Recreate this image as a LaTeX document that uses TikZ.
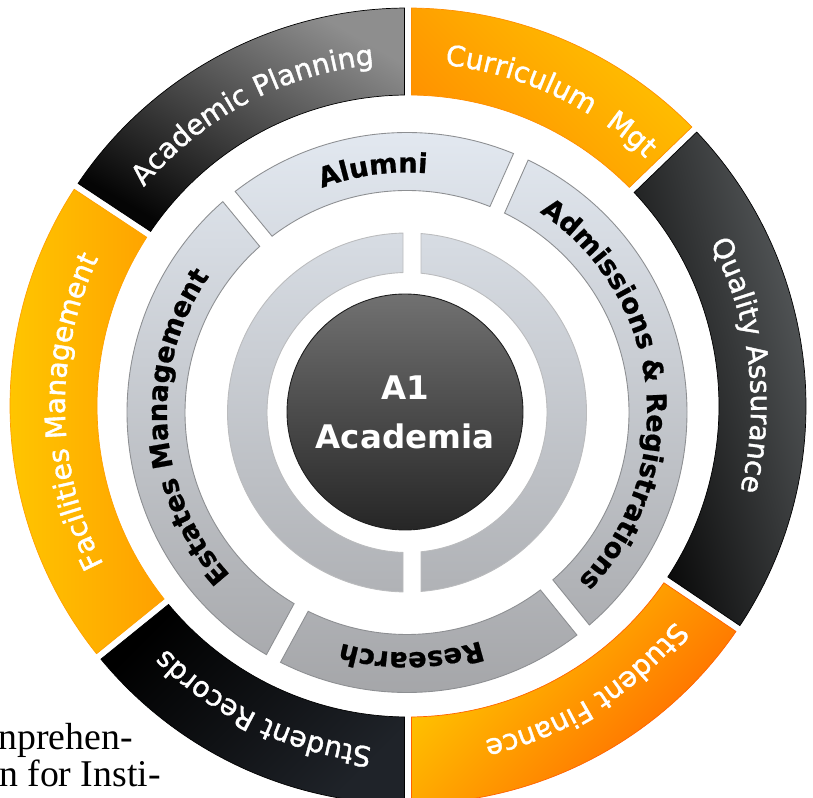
\documentclass[tikz,border=0pt]{standalone}
\usepackage{fontspec}
\setmainfont{DejaVu Sans}
\newfontfamily\pageserif{Liberation Serif}
\newfontfamily\ringsans[FakeBold=1.4]{DejaVu Sans}
\newfontfamily\ringbold[FakeBold=0.8]{DejaVu Sans Bold}
\usetikzlibrary{decorations.text}

\definecolor{apLite}{HTML}{8E8E8E}
\definecolor{apDeep}{HTML}{050505}
\definecolor{cmLite}{HTML}{FFC400}
\definecolor{cmDeep}{HTML}{FF8E00}
\definecolor{qaLite}{HTML}{65696B}
\definecolor{qaDeep}{HTML}{050505}
\definecolor{sfLite}{HTML}{FFD000}
\definecolor{sfDeep}{HTML}{FF6200}
\definecolor{srLite}{HTML}{1F2329}
\definecolor{srDeep}{HTML}{000000}
\definecolor{fmLite}{HTML}{FFCC00}
\definecolor{fmDeep}{HTML}{FFA000}
\definecolor{ringTop}{HTML}{E2E8F0}
\definecolor{ringBot}{HTML}{A5A6A9}
\definecolor{ringEdge}{HTML}{8D8F92}
\definecolor{hubTop}{HTML}{717171}
\definecolor{hubBot}{HTML}{262626}

% ring piece: inner r, outer r, from angle, to angle, offset at start, offset at end
\newcommand{\segpath}[6]{({#3+asin(#5/#2)}:#2) arc[start angle={#3+asin(#5/#2)}, end angle={#4-asin(#6/#2)}, radius=#2] -- ({#4-asin(#6/#1)}:#1) arc[start angle={#4-asin(#6/#1)}, end angle={#3+asin(#5/#1)}, radius=#1] -- cycle}

\begin{document}
\begin{tikzpicture}[x=0.02cm, y=0.02cm]
\tikzset{
  outerseg/.style={line width=0.4pt},
  ringline/.style={draw=ringEdge, line width=0.5pt},
  outerlabel/.style={decorate, decoration={text along path, text align=center, text color=white, text={|\ringsans\fontsize{16}{18}\selectfont|#1}}},
  innerlabel/.style={decorate, decoration={text along path, text align=center, text color=black, text={|\ringbold\fontsize{15.5}{18}\selectfont|#1}}},
  pagetext/.style={font=\pageserif\fontsize{21.5}{25}\selectfont, text=black, inner sep=0pt, anchor=base east},
  hub/.style={circle, minimum size=4.72cm, draw=hubBot!80!black, line width=0.5pt, top color=hubTop, bottom color=hubBot, text=white, align=center, font=\fontsize{18.5}{28}\selectfont\bfseries}
}
\useasboundingbox (0,0) rectangle (813,797);

\node[pagetext] (line1) at (133,48) {nprehen-};
\node[pagetext] (line2) at (161,11) {n for Insti-};

\begin{scope}[shift={(408,391)}]
\shadedraw[outerseg, draw=cmDeep, top color=cmLite, bottom color=cmDeep, shading angle=-45] \segpath{311}{398}{44}{90}{3.5}{3.5};
\shadedraw[outerseg, draw=black, top color=apLite, bottom color=apDeep, shading angle=-30] \segpath{311}{398}{90}{146.5}{3.5}{3.5};
\shadedraw[outerseg, draw=fmDeep, top color=fmLite, bottom color=fmDeep, shading angle=90] \segpath{311}{398}{146.5}{219}{3.5}{3.5};
\shadedraw[outerseg, draw=black, top color=srLite, bottom color=srDeep, shading angle=-135] \segpath{311}{398}{219}{270}{3.5}{3.5};
\shadedraw[outerseg, draw=sfDeep, top color=sfLite, bottom color=sfDeep, shading angle=45] \segpath{311}{398}{270}{326}{3.5}{3.5};
\shadedraw[outerseg, draw=black, top color=qaLite, bottom color=qaDeep, shading angle=-75] \segpath{311}{398}{-34}{44}{3.5}{3.5};

\path[outerlabel={Curriculum {\ }Mgt}] (105:343) arc[start angle=105, end angle=25, radius=343];
\path[outerlabel={Academic Planning}] (158:343) arc[start angle=158, end angle=78, radius=343];
\path[outerlabel={Facilities Management}] (221:343) arc[start angle=221, end angle=141, radius=343];
\path[outerlabel={Student Records}] (-75.5:343) arc[start angle=-75.5, end angle=-155.5, radius=343];
\path[outerlabel={Student Finance}] (-18:343) arc[start angle=-18, end angle=-98, radius=343];
\path[outerlabel={Quality Assurance}] (47:343) arc[start angle=47, end angle=-33, radius=343];
\end{scope}

\begin{scope}[shift={(407,384.5)}]
\begin{scope}
\clip \segpath{222}{280}{66}{129.5}{8}{8} \segpath{222}{280}{129.5}{241.5}{8}{8} \segpath{222}{280}{241.5}{309}{8}{8} \segpath{222}{280}{-51}{66}{8}{8} \segpath{140}{179.5}{90}{270}{4}{4} \segpath{140}{179.5}{-90}{90}{14}{14};
\shade[top color=ringTop, bottom color=ringBot] (-290,-281) rectangle (290,280);
\end{scope}
\draw[ringline] \segpath{222}{280}{66}{129.5}{8}{8};
\draw[ringline] \segpath{222}{280}{129.5}{241.5}{8}{8};
\draw[ringline] \segpath{222}{280}{241.5}{309}{8}{8};
\draw[ringline] \segpath{222}{280}{-51}{66}{8}{8};
\draw[ringline, draw=ringEdge!60] \segpath{140}{179.5}{90}{270}{4}{4};
\draw[ringline, draw=ringEdge!60] \segpath{140}{179.5}{-90}{90}{14}{14};

\path[innerlabel={Alumni}] (148:240) arc[start angle=148, end angle=48, radius=240];
\path[innerlabel={Estates Management}] (244:240) arc[start angle=244, end angle=124, radius=240];
\path[innerlabel={Research}] (-39:240) arc[start angle=-39, end angle=-139, radius=240];
\path[innerlabel={Admissions {\&} Registrations}] (66:240) arc[start angle=66, end angle=-54, radius=240];
\end{scope}

\node[hub] (core) at (405,385) {A1\\Academia};
\end{tikzpicture}
\end{document}
